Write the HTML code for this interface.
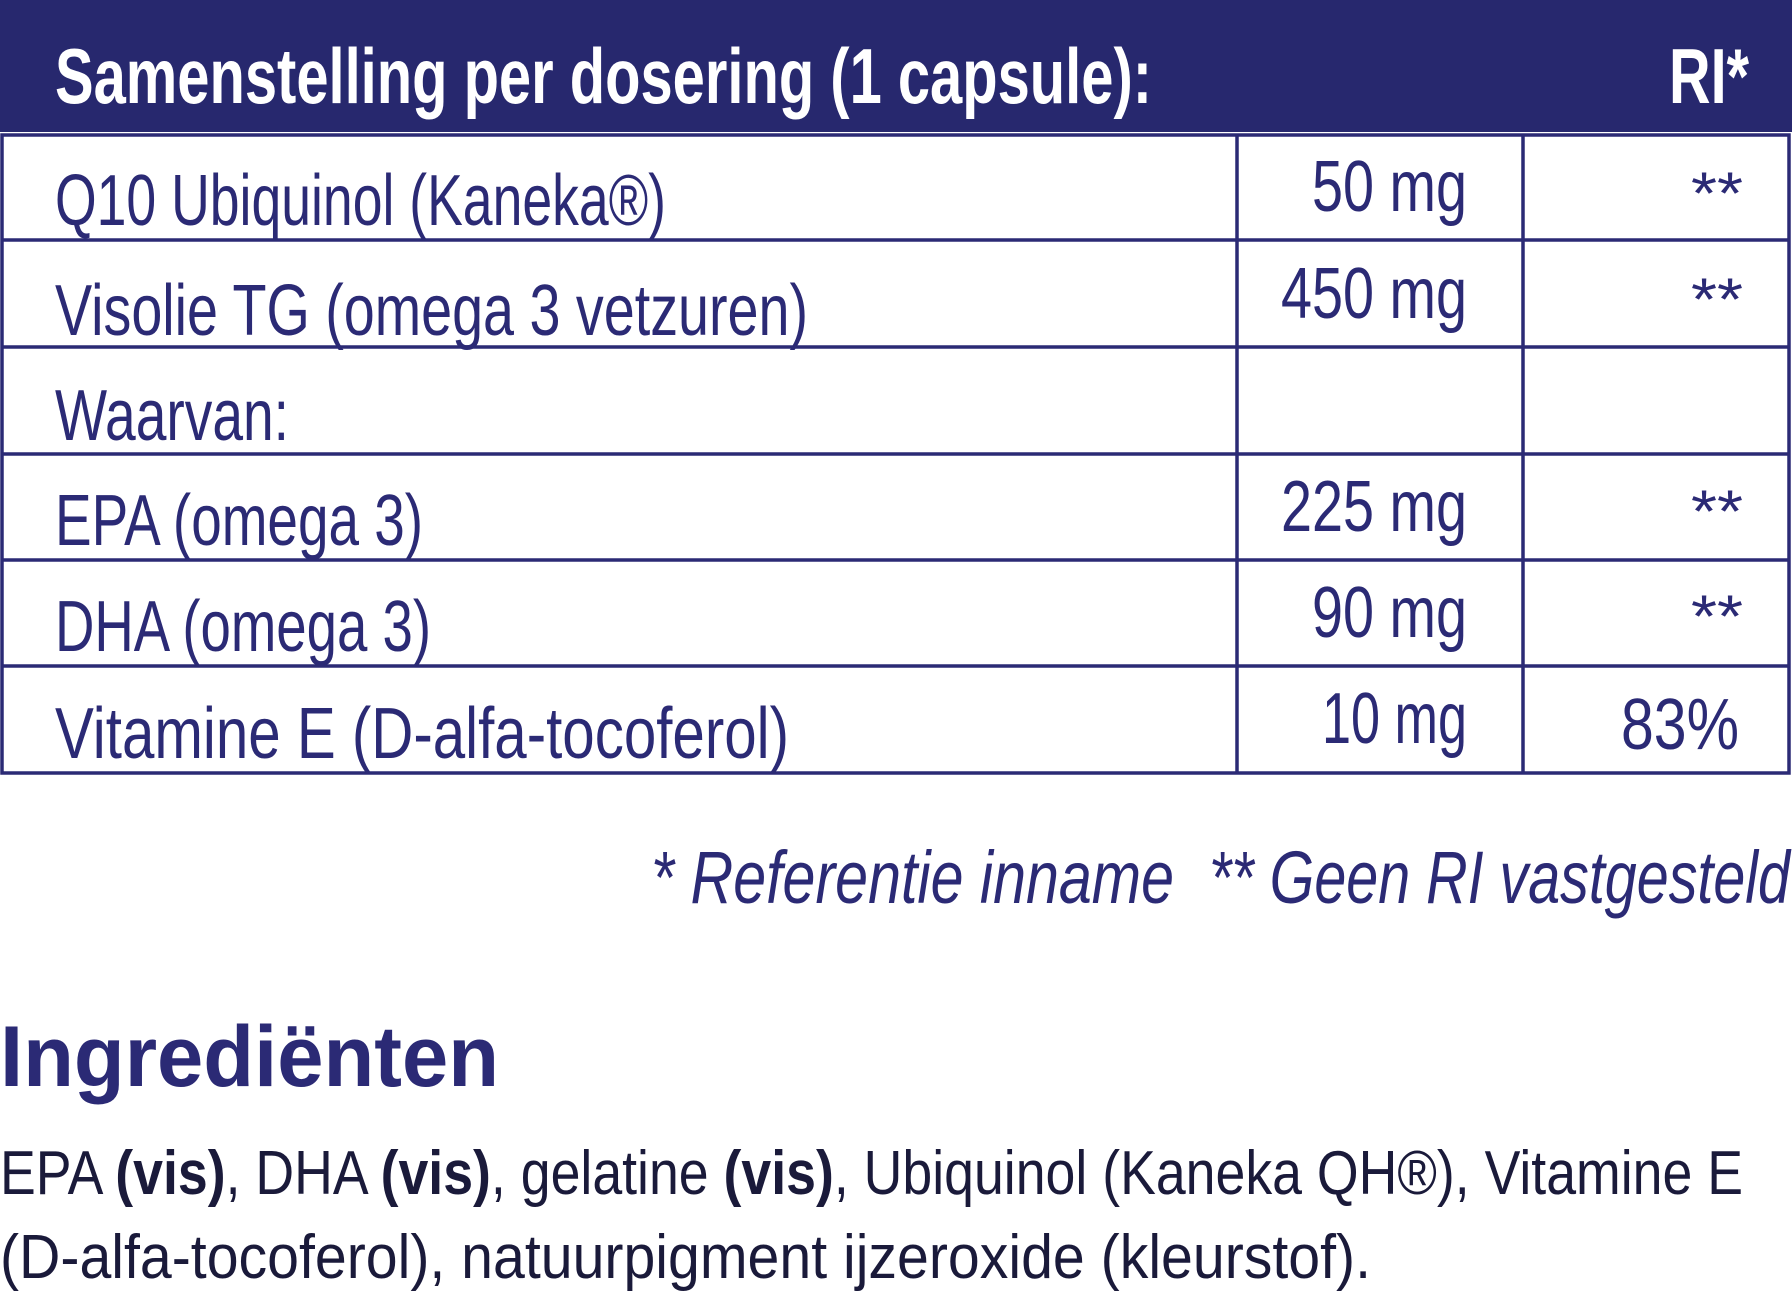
<!DOCTYPE html>
<html><head><meta charset="utf-8"><style>
html,body{margin:0;padding:0;background:#fff;}
svg{display:block;}
text{font-family:"Liberation Sans",sans-serif;fill:#2b2a75;}
</style></head><body>
<svg width="1792" height="1300" viewBox="0 0 1792 1300" xmlns="http://www.w3.org/2000/svg">
<rect x="0" y="0" width="1792" height="132" fill="#27286e"/>
<text x="55" y="103" font-size="78" font-weight="bold" style="fill:#fff" textLength="1097" lengthAdjust="spacingAndGlyphs">Samenstelling per dosering (1 capsule):</text>
<text x="1669" y="103" font-size="78" font-weight="bold" style="fill:#fff" textLength="80" lengthAdjust="spacingAndGlyphs">RI*</text>
<g stroke="#2b2a75" stroke-width="3.5" fill="none">
<rect x="2" y="135" width="1787" height="638"/>
<line x1="2" y1="240" x2="1790" y2="240"/>
<line x1="2" y1="347" x2="1790" y2="347"/>
<line x1="2" y1="454" x2="1790" y2="454"/>
<line x1="2" y1="560" x2="1790" y2="560"/>
<line x1="2" y1="666" x2="1790" y2="666"/>
<line x1="1237" y1="135" x2="1237" y2="773"/>
<line x1="1523" y1="135" x2="1523" y2="773"/>
</g>
<g font-size="72" lengthAdjust="spacingAndGlyphs">
<text x="55" y="225" textLength="611" lengthAdjust="spacingAndGlyphs">Q10 Ubiquinol (Kaneka®)</text>
<text x="55" y="335" textLength="753" lengthAdjust="spacingAndGlyphs">Visolie TG (omega 3 vetzuren)</text>
<text x="55" y="440" textLength="234" lengthAdjust="spacingAndGlyphs">Waarvan:</text>
<text x="55" y="545" textLength="368" lengthAdjust="spacingAndGlyphs">EPA (omega 3)</text>
<text x="55" y="651" textLength="376" lengthAdjust="spacingAndGlyphs">DHA (omega 3)</text>
<text x="55" y="758" textLength="734" lengthAdjust="spacingAndGlyphs">Vitamine E (D-alfa-tocoferol)</text>
<text x="1312" y="211" textLength="155" lengthAdjust="spacingAndGlyphs">50 mg</text>
<text x="1281" y="318" textLength="186" lengthAdjust="spacingAndGlyphs">450 mg</text>
<text x="1281" y="531" textLength="186" lengthAdjust="spacingAndGlyphs">225 mg</text>
<text x="1312" y="637" textLength="155" lengthAdjust="spacingAndGlyphs">90 mg</text>
<text x="1322" y="743" textLength="145" lengthAdjust="spacingAndGlyphs">10 mg</text>
<text x="1621" y="749" textLength="118" lengthAdjust="spacingAndGlyphs">83%</text>
</g>
<g font-size="60">
<text x="1691" y="214" textLength="52" lengthAdjust="spacingAndGlyphs">**</text>
<text x="1691" y="320" textLength="52" lengthAdjust="spacingAndGlyphs">**</text>
<text x="1691" y="532" textLength="52" lengthAdjust="spacingAndGlyphs">**</text>
<text x="1691" y="637" textLength="52" lengthAdjust="spacingAndGlyphs">**</text>
</g>
<g font-size="74" font-style="italic">
<text x="651" y="903" textLength="523" lengthAdjust="spacingAndGlyphs">* Referentie inname</text>
<text x="1209" y="903" textLength="581" lengthAdjust="spacingAndGlyphs">** Geen RI vastgesteld</text>
</g>
<text x="0" y="1086" font-size="86" font-weight="bold" textLength="499" lengthAdjust="spacingAndGlyphs">Ingrediënten</text>
<g font-size="62" style="fill:#1a1a3a">
<text x="0" y="1194" textLength="1743" lengthAdjust="spacingAndGlyphs" style="fill:#1a1a3a">EPA <tspan font-weight="bold">(vis)</tspan>, DHA <tspan font-weight="bold">(vis)</tspan>, gelatine <tspan font-weight="bold">(vis)</tspan>, Ubiquinol (Kaneka QH®), Vitamine E</text>
<text x="0" y="1278" textLength="1371" lengthAdjust="spacingAndGlyphs" style="fill:#1a1a3a">(D-alfa-tocoferol), natuurpigment ijzeroxide (kleurstof).</text>
</g>
</svg>
</body></html>
